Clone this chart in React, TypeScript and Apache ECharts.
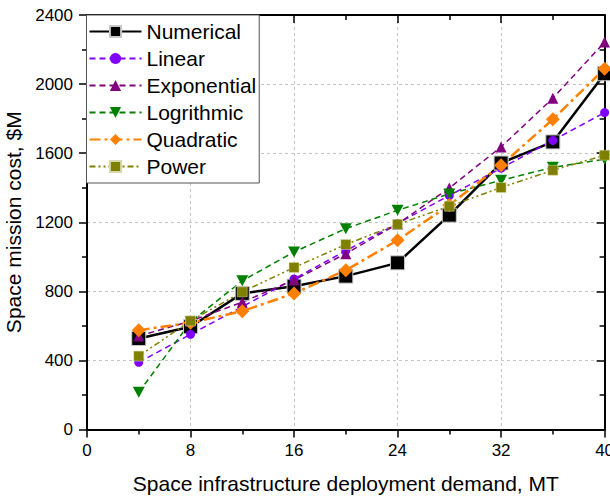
import React, { useEffect, useRef } from "react";
import * as echarts from "echarts";

const demand = [4, 8, 12, 16, 20, 24, 28, 32, 36, 40];
const numerical = [527, 595, 788, 830, 888, 965, 1241, 1543, 1665, 2060];
const linear = [389, 551, 711, 872, 1035, 1193, 1355, 1513, 1674, 1835];
const exponential = [541, 628, 737, 866, 1018, 1190, 1398, 1636, 1918, 2243];
const logrithmic = [215, 622, 861, 1028, 1163, 1269, 1364, 1443, 1518, 1565];
const quadratic = [575, 618, 685, 788, 922, 1096, 1300, 1530, 1796, 2089];
const power = [425, 629, 797, 938, 1071, 1188, 1293, 1401, 1501, 1588];

const FONT = "Arial, 'Liberation Sans', sans-serif";

const pair = (ys: number[]) => demand.map((x, i) => [x, ys[i]]);

export default function App() {
  const ref = useRef<HTMLDivElement>(null);
  useEffect(() => {
    if (!ref.current) return;
    const chart = echarts.init(ref.current, undefined, { renderer: "svg" });
    const gridLine = { show: true, lineStyle: { color: "#c4c4c4", type: [3, 3] as any, width: 1 } };
    const axisLine = { show: true, onZero: false, lineStyle: { color: "#000", width: 2 } };
    const baseX = {
      type: "value" as const,
      min: 0,
      max: 40,
      interval: 8,
      axisLine,
      minorTick: { show: true, splitNumber: 2, length: 5, lineStyle: { color: "#000", width: 1.5 } },
    };
    const baseY = {
      type: "value" as const,
      min: 0,
      max: 2400,
      interval: 400,
      axisLine,
      minorTick: { show: true, splitNumber: 2, length: 5, lineStyle: { color: "#000", width: 1.5 } },
    };
    const downTri = "path://M0,0 L10,0 L5,9 Z";
    chart.setOption({
      animation: false,
      textStyle: { fontFamily: FONT },
      grid: { left: 87, right: 5.4, top: 15, bottom: 68.5, containLabel: false, outerBoundsMode: "none" },
      legend: {
        left: 86.5,
        top: 15,
        orient: "vertical",
        itemWidth: 52,
        itemHeight: 14,
        itemGap: 6,
        padding: [6, 3, 6, 2],
        backgroundColor: "#fff",
        borderColor: "#555",
        borderWidth: 1,
        textStyle: { fontSize: 21, fontFamily: FONT, color: "#000", lineHeight: 20 },
        data: ["Numerical", "Linear", "Exponential", "Logrithmic", "Quadratic", "Power"],
      },
      xAxis: [
        {
          ...baseX,
          position: "bottom",
          name: "Space infrastructure deployment demand, MT",
          nameLocation: "middle",
          nameGap: 43,
          nameTextStyle: { fontSize: 21, color: "#000", fontFamily: FONT },
          axisTick: { show: true, inside: false, length: 8, lineStyle: { color: "#000", width: 1.5 } },
          axisLabel: { fontSize: 17, color: "#000", margin: 12, fontFamily: FONT, formatter: (v: number) => String(v) },
          splitLine: gridLine,
        },
        {
          ...baseX,
          position: "top",
          axisTick: { show: true, inside: true, length: 8, lineStyle: { color: "#000", width: 1.5 } },
          axisLabel: { show: false },
          splitLine: { show: false },
        },
      ],
      yAxis: [
        {
          ...baseY,
          position: "left",
          name: "Space mission cost, $M",
          nameLocation: "middle",
          nameGap: 58,
          nameTextStyle: { fontSize: 21, color: "#000", fontFamily: FONT },
          axisTick: { show: true, inside: false, length: 8, lineStyle: { color: "#000", width: 1.5 } },
          axisLabel: { fontSize: 17, color: "#000", margin: 14, fontFamily: FONT, formatter: (v: number) => String(v) },
          splitLine: gridLine,
        },
        {
          ...baseY,
          position: "right",
          axisTick: { show: true, inside: true, length: 8, lineStyle: { color: "#000", width: 1.5 } },
          axisLabel: { show: false },
          splitLine: { show: false },
        },
      ],
      series: [
        {
          name: "Numerical",
          type: "line",
          data: pair(numerical),
          symbol: "rect",
          symbolSize: 14,
          lineStyle: { color: "#000", width: 2.5, type: "solid" },
          itemStyle: { color: "#000", borderColor: "#c8c8c8", borderWidth: 1 },
        },
        {
          name: "Linear",
          type: "line",
          data: pair(linear),
          symbol: "circle",
          symbolSize: 9,
          lineStyle: { color: "#8000ff", width: 1.5, type: [6, 4] },
          itemStyle: { color: "#8000ff" },
        },
        {
          name: "Exponential",
          type: "line",
          data: pair(exponential),
          symbol: "triangle",
          symbolSize: 11,
          lineStyle: { color: "#800080", width: 1.5, type: [6, 4] },
          itemStyle: { color: "#800080" },
        },
        {
          name: "Logrithmic",
          type: "line",
          data: pair(logrithmic),
          symbol: downTri,
          symbolSize: [12, 11],
          lineStyle: { color: "#008000", width: 1.5, type: [6, 4] },
          itemStyle: { color: "#008000" },
        },
        {
          name: "Quadratic",
          type: "line",
          data: pair(quadratic),
          symbol: "diamond",
          symbolSize: 14,
          lineStyle: { color: "#ff8000", width: 2.5, type: [11, 4, 3, 4] },
          itemStyle: { color: "#ff8000" },
        },
        {
          name: "Power",
          type: "line",
          data: pair(power),
          symbol: "rect",
          symbolSize: 10,
          lineStyle: { color: "#808000", width: 1.5, type: [6, 3, 2, 3, 2, 3] },
          itemStyle: { color: "#808000", borderColor: "#d8d8b0", borderWidth: 0.5 },
        },
      ],
    });
    return () => chart.dispose();
  }, []);
  return (
    <div
      ref={ref}
      style={{ position: "absolute", left: 0, top: 0, width: 610, height: 498, background: "#fff" }}
    />
  );
}
